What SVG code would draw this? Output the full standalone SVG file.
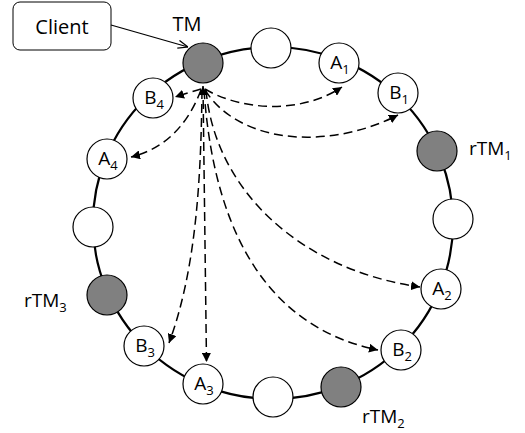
<svg xmlns="http://www.w3.org/2000/svg" width="525" height="433" viewBox="0 0 525 433">
  <defs>
    <marker id="head" viewBox="0 0 10 10" refX="10" refY="5" markerWidth="9" markerHeight="9" markerUnits="userSpaceOnUse" orient="auto-start-reverse">
      <path d="M0,0 L10,5 L0,10 Z" fill="#000"/>
    </marker>
    <marker id="open" viewBox="0 0 10 10" refX="10" refY="5" markerWidth="10" markerHeight="10" markerUnits="userSpaceOnUse" orient="auto">
      <path d="M0,1 L10,5 L0,9" fill="none" stroke="#000" stroke-width="1.2"/>
    </marker>
  </defs>
  <style>
    .ring { fill: none; stroke: #000; stroke-width: 2.2; }
    .node { stroke: #000; stroke-width: 1.2; fill: #fff; }
    .tm { fill: #808080; }
    .lbl { font-family: "Open Sans", "Liberation Sans", sans-serif; font-size: 19px; fill: #000; text-anchor: middle; }
    .sub { font-size: 13px; }
    .name { font-family: "Open Sans", "Liberation Sans", sans-serif; font-size: 19px; fill: #000; }
    .msg { fill: none; stroke: #000; stroke-width: 1.5; stroke-dasharray: 9 5; marker-end: url(#head); }
  </style>
  <rect width="525" height="433" fill="#fff"/>

  <!-- ring of nodes -->
  <ellipse class="ring" cx="273" cy="223" rx="180" ry="176"/>

  <!-- client box -->
  <g id="client">
    <rect x="13" y="2" width="98" height="48" rx="7" ry="7" fill="#fff" stroke="#000" stroke-width="1"/>
    <text class="name" x="62" y="34" text-anchor="middle" style="font-size:20px">Client</text>
  </g>

  <g id="connectors">
    <line x1="111" y1="25" x2="188" y2="47" stroke="#000" stroke-width="1.3" marker-end="url(#open)"/>
    <!-- transaction manager fan-out -->
    <path class="msg" d="M201,89 Q190,92 175,97"/>
    <path class="msg" d="M201,90 Q180,145 131,157"/>
    <path class="msg" d="M202,90 C201,180 196,270 169,343"/>
    <path class="msg" d="M203,86 L206.5,362" style="marker-start:url(#head)"/>
    <path class="msg" d="M205,89 C240,110 300,115 342,87"/>
    <path class="msg" d="M205,90 C240,145 330,150 398,115"/>
    <path class="msg" d="M206,90 C215,190 300,270 420,287"/>
    <path class="msg" d="M204,90 C215,250 280,330 378,350"/>
  </g>

  <g id="TM">
    <circle class="node tm" cx="203" cy="63" r="20"/>
    <text class="name" x="187" y="31" text-anchor="middle" style="font-size:20px">TM</text>
  </g>
  <g id="n-top">
    <circle class="node" cx="271" cy="48" r="20"/>
  </g>
  <g id="A1">
    <circle class="node" cx="339" cy="63" r="20"/>
    <text class="lbl" x="340" y="69">A<tspan class="sub" dy="5">1</tspan></text>
  </g>
  <g id="B1">
    <circle class="node" cx="398" cy="93" r="20"/>
    <text class="lbl" x="399" y="99">B<tspan class="sub" dy="5">1</tspan></text>
  </g>
  <g id="rTM1">
    <circle class="node tm" cx="437" cy="151" r="20"/>
    <text class="name" x="469" y="155">rTM<tspan class="sub" dy="5">1</tspan></text>
  </g>
  <g id="n-right">
    <circle class="node" cx="453" cy="219" r="20"/>
  </g>
  <g id="A2">
    <circle class="node" cx="441" cy="289" r="20"/>
    <text class="lbl" x="442" y="295">A<tspan class="sub" dy="5">2</tspan></text>
  </g>
  <g id="B2">
    <circle class="node" cx="401" cy="350" r="20"/>
    <text class="lbl" x="402" y="356">B<tspan class="sub" dy="5">2</tspan></text>
  </g>
  <g id="rTM2">
    <circle class="node tm" cx="341" cy="387" r="20"/>
    <text class="name" x="362" y="423">rTM<tspan class="sub" dy="5">2</tspan></text>
  </g>
  <g id="n-bottom">
    <circle class="node" cx="273" cy="397" r="20"/>
  </g>
  <g id="A3">
    <circle class="node" cx="203" cy="384" r="20"/>
    <text class="lbl" x="204" y="390">A<tspan class="sub" dy="5">3</tspan></text>
  </g>
  <g id="B3">
    <circle class="node" cx="144" cy="346" r="20"/>
    <text class="lbl" x="145" y="352">B<tspan class="sub" dy="5">3</tspan></text>
  </g>
  <g id="rTM3">
    <circle class="node tm" cx="107" cy="295" r="20"/>
    <text class="name" x="24" y="307">rTM<tspan class="sub" dy="5">3</tspan></text>
  </g>
  <g id="n-left">
    <circle class="node" cx="93" cy="227" r="20"/>
  </g>
  <g id="A4">
    <circle class="node" cx="107" cy="159" r="20"/>
    <text class="lbl" x="108" y="165">A<tspan class="sub" dy="5">4</tspan></text>
  </g>
  <g id="B4">
    <circle class="node" cx="153" cy="98" r="20"/>
    <text class="lbl" x="154" y="104">B<tspan class="sub" dy="5">4</tspan></text>
  </g>
</svg>
